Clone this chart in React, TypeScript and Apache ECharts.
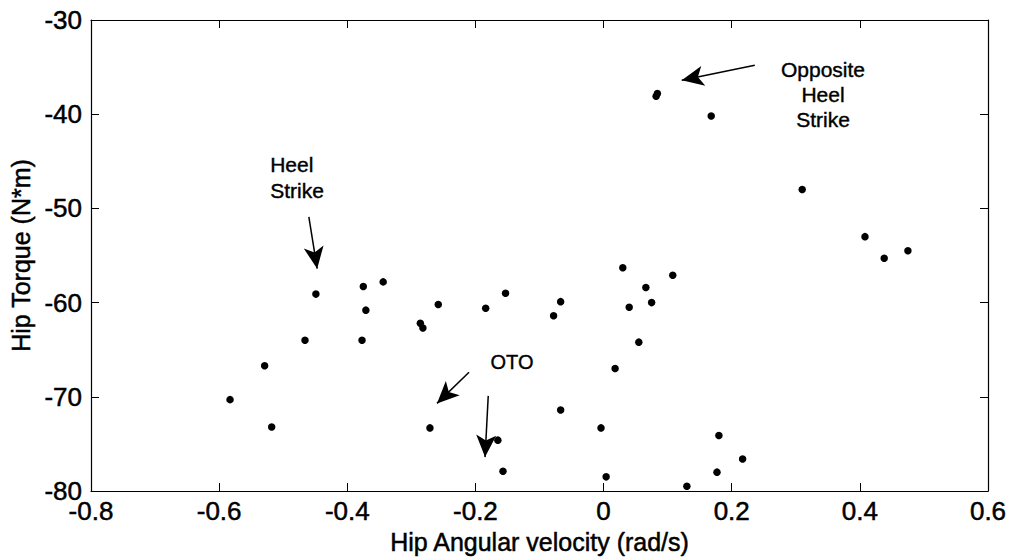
import React, { useEffect, useRef } from "react";
import * as echarts from "echarts";

const velocity = [
  -0.583, -0.518, -0.529, -0.466, -0.449, -0.375, -0.344, -0.371, -0.377, -0.286,
  -0.282, -0.258, -0.184, -0.153, -0.271, -0.165, -0.157, -0.067, -0.078, 0.04,
  0.066, 0.075, 0.108, 0.055, 0.018, -0.067, -0.004, 0.004, 0.13, 0.18,
  0.177, 0.217, 0.03, 0.082, 0.084, 0.168, 0.31, 0.408, 0.438, 0.475,
];
const torque = [
  -70.3, -73.2, -66.7, -64.0, -59.1, -58.3, -57.8, -60.8, -64.0, -62.2,
  -62.7, -60.2, -60.6, -59.0, -73.3, -74.6, -77.9, -59.9, -61.4, -60.5,
  -58.4, -60.0, -57.1, -64.2, -67.0, -71.4, -73.3, -78.5, -79.5, -74.1,
  -78.0, -76.6, -56.3, -38.1, -37.8, -40.2, -48.0, -53.0, -55.3, -54.5,
];

// arrows: [x1, y1, x2, y2] in data units (tail -> head)
const arrows = [
  [-0.46, -50.9, -0.447, -56.4],
  [0.236, -34.8, 0.122, -36.4],
  [-0.21, -67.4, -0.26, -70.7],
  [-0.18, -69.9, -0.185, -76.4],
];

const FONT = "'Liberation Sans', Arial, Helvetica, sans-serif";

export default function App() {
  const ref = useRef<HTMLDivElement>(null);
  useEffect(() => {
    if (!ref.current) return;
    const chart = echarts.init(ref.current, undefined, { renderer: "svg" });
    const fmtX = (v: number) => (Math.abs(v) < 1e-9 ? "0" : v.toFixed(1));
    const tickStyle = { show: true, inside: true, length: 8, lineStyle: { color: "#000", width: 1 } };
    const lineStyle = { show: true, onZero: false, lineStyle: { color: "#000", width: 1.2 } };
    const heavy = { textBorderColor: "#000", textBorderWidth: 0.5 };
    chart.setOption({
      animation: false,
      backgroundColor: "#fff",
      grid: { left: 91, top: 20, width: 897, height: 471, containLabel: false, outerBoundsMode: "none" },
      xAxis: [
        {
          type: "value",
          min: -0.8,
          max: 0.6,
          interval: 0.2,
          position: "bottom",
          name: "Hip Angular velocity (rad/s)",
          nameLocation: "middle",
          nameGap: 38,
          nameTextStyle: { fontFamily: FONT, fontSize: 25, color: "#000", ...heavy },
          axisLine: lineStyle,
          axisTick: tickStyle,
          splitLine: { show: false },
          axisLabel: { fontFamily: FONT, fontSize: 26, color: "#000", margin: 7, formatter: fmtX, ...heavy },
        },
        {
          type: "value",
          min: -0.8,
          max: 0.6,
          interval: 0.2,
          position: "top",
          axisLine: lineStyle,
          axisTick: tickStyle,
          splitLine: { show: false },
          axisLabel: { show: false },
        },
      ],
      yAxis: [
        {
          type: "value",
          min: -80,
          max: -30,
          interval: 10,
          position: "left",
          name: "Hip Torque (N*m)",
          nameLocation: "middle",
          nameGap: 54,
          nameTextStyle: { fontFamily: FONT, fontSize: 25, color: "#000", ...heavy },
          axisLine: lineStyle,
          axisTick: tickStyle,
          splitLine: { show: false },
          axisLabel: { fontFamily: FONT, fontSize: 26, color: "#000", margin: 9, ...heavy },
        },
        {
          type: "value",
          min: -80,
          max: -30,
          interval: 10,
          position: "right",
          axisLine: lineStyle,
          axisTick: tickStyle,
          splitLine: { show: false },
          axisLabel: { show: false },
        },
      ],
      series: [
        {
          type: "scatter",
          xAxisIndex: 0,
          yAxisIndex: 0,
          symbol: "circle",
          symbolSize: 7.5,
          itemStyle: { color: "#000", opacity: 1 },
          data: velocity.map((v, i) => [v, torque[i]]),
          markLine: {
            silent: true,
            symbol: ["none", "arrow"],
            symbolSize: [15, 22],
            label: { show: false },
            lineStyle: { color: "#000", width: 1.5, type: "solid", opacity: 1 },
            data: arrows.map((a) => [{ coord: [a[0], a[1]] }, { coord: [a[2], a[3]] }]),
          },
        },
      ],
      graphic: [
        {
          type: "text",
          left: 270,
          top: 151,
          style: { text: "Heel\nStrike", font: `21px ${FONT}`, fill: "#000", lineHeight: 26, textAlign: "left", stroke: "#000", lineWidth: 0.4 },
        },
        {
          type: "text",
          x: 823,
          y: 57,
          style: { text: "Opposite\nHeel\nStrike", font: `21px ${FONT}`, fill: "#000", lineHeight: 25, textAlign: "center", textVerticalAlign: "top", stroke: "#000", lineWidth: 0.4 },
        },
        {
          type: "text",
          x: 512,
          y: 352,
          style: { text: "OTO", font: `20px ${FONT}`, fill: "#000", textAlign: "center", textVerticalAlign: "top", stroke: "#000", lineWidth: 0.4 },
        },
      ],
    });
    return () => chart.dispose();
  }, []);
  return (
    <div
      ref={ref}
      style={{ position: "fixed", left: 0, top: 0, width: 1013, height: 560, background: "#fff" }}
    />
  );
}
